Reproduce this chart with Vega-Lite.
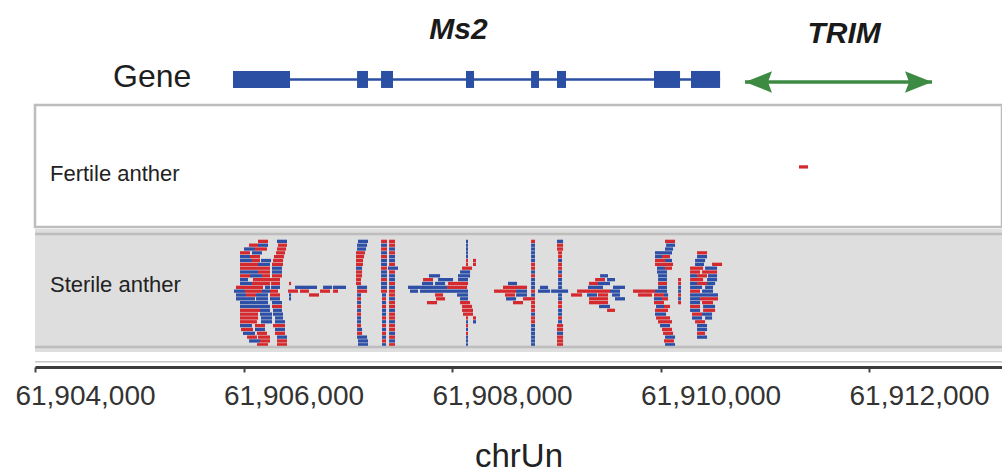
{
"$schema":"https://vega.github.io/schema/vega-lite/v6.json",
"padding":{"left":14,"top":0,"right":0,"bottom":0},
"spacing":0,
"config":{"font":"Liberation Sans","view":{"stroke":null},"concat":{"spacing":0}},
"datasets":{
"genes":[{"gene":"Ms2","start":61905899,"end":61910571},{"gene":"TRIM","start":61910810,"end":61912604}],
"exons":[{"start":61905899,"end":61906446},{"start":61907089,"end":61907194},{"start":61907319,"end":61907434},{"start":61908134,"end":61908211},{"start":61908758,"end":61908834},{"start":61909007,"end":61909093},{"start":61909937,"end":61910187},{"start":61910292,"end":61910571}],
"labels":[{"gene":"Ms2","pos":61908062},{"gene":"TRIM","pos":61911760}],
"fertile":[{"s":61911328,"e":61911415,"r":0,"t":"+"}],
"sterile":[
{"s":61906139,"e":61906235,"r":0,"t":"+"},{"s":61906321,"e":61906417,"r":0,"t":"-"},
{"s":61906053,"e":61906139,"r":1,"t":"+"},{"s":61906139,"e":61906235,"r":1,"t":"-"},{"s":61906331,"e":61906417,"r":1,"t":"+"},
{"s":61906005,"e":61906110,"r":2,"t":"-"},{"s":61906110,"e":61906225,"r":2,"t":"+"},{"s":61906321,"e":61906408,"r":2,"t":"+"},
{"s":61905966,"e":61906062,"r":3,"t":"+"},{"s":61906081,"e":61906177,"r":3,"t":"-"},{"s":61906312,"e":61906398,"r":3,"t":"+"},
{"s":61905966,"e":61906062,"r":4,"t":"-"},{"s":61906062,"e":61906158,"r":4,"t":"+"},{"s":61906292,"e":61906388,"r":4,"t":"+"},
{"s":61905966,"e":61906081,"r":5,"t":"-"},{"s":61906081,"e":61906158,"r":5,"t":"+"},{"s":61906168,"e":61906264,"r":5,"t":"-"},{"s":61906283,"e":61906379,"r":5,"t":"+"},
{"s":61905966,"e":61906139,"r":6,"t":"+"},{"s":61906139,"e":61906254,"r":6,"t":"-"},{"s":61906273,"e":61906379,"r":6,"t":"+"},
{"s":61905966,"e":61906129,"r":7,"t":"+"},{"s":61906129,"e":61906254,"r":7,"t":"+"},{"s":61906273,"e":61906369,"r":7,"t":"-"},
{"s":61905966,"e":61906043,"r":8,"t":"-"},{"s":61906043,"e":61906139,"r":8,"t":"-"},{"s":61906139,"e":61906254,"r":8,"t":"+"},{"s":61906273,"e":61906369,"r":8,"t":"-"},
{"s":61905966,"e":61906062,"r":9,"t":"+"},{"s":61906062,"e":61906177,"r":9,"t":"-"},{"s":61906177,"e":61906254,"r":9,"t":"+"},{"s":61906273,"e":61906369,"r":9,"t":"+"},
{"s":61905966,"e":61906043,"r":10,"t":"-"},{"s":61906091,"e":61906206,"r":10,"t":"+"},{"s":61906206,"e":61906273,"r":10,"t":"+"},{"s":61906273,"e":61906350,"r":10,"t":"+"},
{"s":61905966,"e":61906081,"r":11,"t":"-"},{"s":61906081,"e":61906254,"r":11,"t":"+"},{"s":61906264,"e":61906350,"r":11,"t":"+"},
{"s":61905928,"e":61906014,"r":12,"t":"+"},{"s":61906014,"e":61906187,"r":12,"t":"+"},{"s":61906206,"e":61906254,"r":12,"t":"-"},{"s":61906264,"e":61906350,"r":12,"t":"-"},
{"s":61905909,"e":61906014,"r":13,"t":"-"},{"s":61906014,"e":61906177,"r":13,"t":"+"},{"s":61906177,"e":61906254,"r":13,"t":"-"},{"s":61906254,"e":61906331,"r":13,"t":"+"},
{"s":61905928,"e":61906024,"r":14,"t":"-"},{"s":61906024,"e":61906120,"r":14,"t":"+"},{"s":61906120,"e":61906235,"r":14,"t":"-"},{"s":61906254,"e":61906350,"r":14,"t":"+"},
{"s":61905928,"e":61906110,"r":15,"t":"-"},{"s":61906120,"e":61906235,"r":15,"t":"-"},{"s":61906254,"e":61906350,"r":15,"t":"-"},
{"s":61905966,"e":61906139,"r":16,"t":"-"},{"s":61906139,"e":61906235,"r":16,"t":"-"},{"s":61906273,"e":61906369,"r":16,"t":"-"},
{"s":61905966,"e":61906158,"r":17,"t":"-"},{"s":61906158,"e":61906254,"r":17,"t":"-"},{"s":61906273,"e":61906369,"r":17,"t":"+"},
{"s":61905966,"e":61906158,"r":18,"t":"+"},{"s":61906158,"e":61906254,"r":18,"t":"-"},{"s":61906283,"e":61906369,"r":18,"t":"-"},
{"s":61905966,"e":61906139,"r":19,"t":"+"},{"s":61906158,"e":61906273,"r":19,"t":"-"},{"s":61906283,"e":61906379,"r":19,"t":"-"},
{"s":61905966,"e":61906139,"r":20,"t":"+"},{"s":61906168,"e":61906273,"r":20,"t":"-"},{"s":61906302,"e":61906379,"r":20,"t":"-"},
{"s":61905966,"e":61906129,"r":21,"t":"+"},{"s":61906168,"e":61906273,"r":21,"t":"-"},{"s":61906302,"e":61906398,"r":21,"t":"-"},
{"s":61905966,"e":61906081,"r":22,"t":"-"},{"s":61906110,"e":61906206,"r":22,"t":"+"},{"s":61906283,"e":61906398,"r":22,"t":"+"},
{"s":61905976,"e":61906091,"r":23,"t":"+"},{"s":61906110,"e":61906206,"r":23,"t":"-"},{"s":61906302,"e":61906398,"r":23,"t":"-"},
{"s":61905995,"e":61906110,"r":24,"t":"-"},{"s":61906129,"e":61906225,"r":24,"t":"+"},{"s":61906302,"e":61906398,"r":24,"t":"+"},
{"s":61906034,"e":61906129,"r":25,"t":"+"},{"s":61906139,"e":61906254,"r":25,"t":"+"},{"s":61906321,"e":61906417,"r":25,"t":"-"},
{"s":61906053,"e":61906158,"r":26,"t":"-"},{"s":61906158,"e":61906254,"r":26,"t":"+"},{"s":61906321,"e":61906417,"r":26,"t":"+"},
{"s":61906129,"e":61906235,"r":27,"t":"+"},{"s":61906321,"e":61906417,"r":27,"t":"+"},
{"s":61906436,"e":61906456,"r":11,"t":"+"},
{"s":61906494,"e":61906599,"r":12,"t":"-"},{"s":61906599,"e":61906705,"r":12,"t":"-"},{"s":61906763,"e":61906849,"r":12,"t":"-"},{"s":61906858,"e":61906983,"r":12,"t":"-"},
{"s":61906427,"e":61906523,"r":13,"t":"+"},{"s":61906542,"e":61906628,"r":13,"t":"+"},{"s":61906734,"e":61906830,"r":13,"t":"+"},{"s":61906858,"e":61906906,"r":13,"t":"+"},
{"s":61906436,"e":61906456,"r":14,"t":"-"},{"s":61906628,"e":61906724,"r":14,"t":"+"},
{"s":61906436,"e":61906456,"r":15,"t":"-"},
{"s":61907098,"e":61907194,"r":0,"t":"-"},{"s":61907089,"e":61907185,"r":1,"t":"-"},{"s":61907089,"e":61907175,"r":2,"t":"-"},{"s":61907079,"e":61907165,"r":3,"t":"+"},
{"s":61907079,"e":61907156,"r":4,"t":"+"},{"s":61907079,"e":61907146,"r":5,"t":"+"},{"s":61907079,"e":61907146,"r":6,"t":"+"},{"s":61907079,"e":61907137,"r":7,"t":"-"},
{"s":61907079,"e":61907137,"r":8,"t":"+"},{"s":61907079,"e":61907137,"r":9,"t":"+"},{"s":61907079,"e":61907127,"r":10,"t":"+"},{"s":61907079,"e":61907127,"r":11,"t":"+"},
{"s":61907089,"e":61907185,"r":12,"t":"-"},{"s":61907089,"e":61907185,"r":13,"t":"+"},{"s":61907089,"e":61907127,"r":14,"t":"-"},{"s":61907089,"e":61907127,"r":15,"t":"+"},
{"s":61907089,"e":61907127,"r":16,"t":"-"},{"s":61907089,"e":61907127,"r":17,"t":"+"},{"s":61907089,"e":61907127,"r":18,"t":"-"},{"s":61907089,"e":61907127,"r":19,"t":"+"},
{"s":61907089,"e":61907127,"r":20,"t":"-"},{"s":61907089,"e":61907127,"r":21,"t":"-"},{"s":61907089,"e":61907127,"r":22,"t":"+"},{"s":61907089,"e":61907137,"r":23,"t":"-"},
{"s":61907089,"e":61907137,"r":24,"t":"+"},{"s":61907089,"e":61907185,"r":25,"t":"-"},{"s":61907098,"e":61907194,"r":26,"t":"-"},{"s":61907098,"e":61907194,"r":27,"t":"-"},
{"s":61907319,"e":61907376,"r":0,"t":"+"},{"s":61907319,"e":61907376,"r":1,"t":"-"},{"s":61907319,"e":61907376,"r":2,"t":"+"},{"s":61907319,"e":61907376,"r":3,"t":"-"},
{"s":61907319,"e":61907376,"r":4,"t":"+"},{"s":61907319,"e":61907376,"r":5,"t":"-"},{"s":61907319,"e":61907376,"r":6,"t":"-"},{"s":61907319,"e":61907376,"r":7,"t":"+"},
{"s":61907319,"e":61907376,"r":8,"t":"-"},{"s":61907319,"e":61907376,"r":9,"t":"-"},{"s":61907319,"e":61907376,"r":10,"t":"+"},{"s":61907319,"e":61907376,"r":11,"t":"-"},
{"s":61907319,"e":61907376,"r":12,"t":"-"},{"s":61907319,"e":61907376,"r":13,"t":"+"},{"s":61907328,"e":61907367,"r":14,"t":"-"},{"s":61907328,"e":61907367,"r":15,"t":"+"},
{"s":61907328,"e":61907367,"r":16,"t":"-"},{"s":61907328,"e":61907367,"r":17,"t":"+"},{"s":61907328,"e":61907367,"r":18,"t":"-"},{"s":61907328,"e":61907367,"r":19,"t":"-"},
{"s":61907328,"e":61907367,"r":20,"t":"+"},{"s":61907328,"e":61907367,"r":21,"t":"-"},{"s":61907328,"e":61907367,"r":22,"t":"+"},{"s":61907328,"e":61907367,"r":23,"t":"-"},
{"s":61907328,"e":61907367,"r":24,"t":"+"},{"s":61907328,"e":61907367,"r":25,"t":"-"},{"s":61907328,"e":61907367,"r":26,"t":"+"},{"s":61907328,"e":61907367,"r":27,"t":"-"},
{"s":61907396,"e":61907453,"r":0,"t":"+"},{"s":61907396,"e":61907453,"r":1,"t":"+"},{"s":61907396,"e":61907453,"r":2,"t":"-"},{"s":61907396,"e":61907453,"r":3,"t":"+"},
{"s":61907396,"e":61907453,"r":4,"t":"-"},{"s":61907396,"e":61907453,"r":5,"t":"-"},{"s":61907396,"e":61907453,"r":6,"t":"+"},{"s":61907386,"e":61907482,"r":7,"t":"-"},
{"s":61907396,"e":61907453,"r":8,"t":"+"},{"s":61907396,"e":61907453,"r":9,"t":"-"},{"s":61907396,"e":61907453,"r":10,"t":"-"},{"s":61907396,"e":61907453,"r":11,"t":"+"},
{"s":61907396,"e":61907453,"r":12,"t":"-"},{"s":61907396,"e":61907453,"r":13,"t":"+"},{"s":61907396,"e":61907453,"r":14,"t":"+"},{"s":61907396,"e":61907453,"r":15,"t":"-"},
{"s":61907396,"e":61907453,"r":16,"t":"+"},{"s":61907396,"e":61907453,"r":17,"t":"+"},{"s":61907396,"e":61907453,"r":18,"t":"-"},{"s":61907396,"e":61907453,"r":19,"t":"+"},
{"s":61907396,"e":61907453,"r":20,"t":"+"},{"s":61907396,"e":61907453,"r":21,"t":"-"},{"s":61907396,"e":61907453,"r":22,"t":"+"},{"s":61907396,"e":61907453,"r":23,"t":"+"},
{"s":61907396,"e":61907453,"r":24,"t":"-"},{"s":61907396,"e":61907453,"r":25,"t":"+"},{"s":61907396,"e":61907453,"r":26,"t":"-"},{"s":61907396,"e":61907453,"r":27,"t":"+"},
{"s":61908096,"e":61908192,"r":7,"t":"+"},
{"s":61908077,"e":61908173,"r":8,"t":"-"},
{"s":61907779,"e":61907885,"r":9,"t":"-"},{"s":61908057,"e":61908173,"r":9,"t":"-"},
{"s":61907722,"e":61907818,"r":10,"t":"+"},{"s":61907866,"e":61908010,"r":10,"t":"-"},{"s":61908057,"e":61908153,"r":10,"t":"-"},
{"s":61907712,"e":61907818,"r":11,"t":"-"},{"s":61907837,"e":61907933,"r":11,"t":"-"},{"s":61907962,"e":61908153,"r":11,"t":"+"},
{"s":61907578,"e":61907693,"r":12,"t":"-"},{"s":61907693,"e":61907818,"r":12,"t":"-"},{"s":61907818,"e":61907952,"r":12,"t":"-"},{"s":61907952,"e":61908144,"r":12,"t":"+"},
{"s":61907597,"e":61907674,"r":13,"t":"-"},{"s":61907693,"e":61907933,"r":13,"t":"-"},{"s":61907933,"e":61908153,"r":13,"t":"-"},
{"s":61907837,"e":61907914,"r":14,"t":"+"},{"s":61908048,"e":61908153,"r":14,"t":"-"},
{"s":61907846,"e":61907933,"r":15,"t":"+"},{"s":61908077,"e":61908153,"r":15,"t":"-"},
{"s":61907760,"e":61907856,"r":16,"t":"+"},{"s":61908077,"e":61908173,"r":16,"t":"+"},
{"s":61908096,"e":61908192,"r":17,"t":"+"},{"s":61908096,"e":61908201,"r":18,"t":"+"},{"s":61908105,"e":61908201,"r":19,"t":"+"},
{"s":61908134,"e":61908153,"r":0,"t":"-"},{"s":61908134,"e":61908153,"r":1,"t":"-"},{"s":61908134,"e":61908153,"r":2,"t":"-"},{"s":61908134,"e":61908153,"r":3,"t":"-"},
{"s":61908134,"e":61908153,"r":4,"t":"-"},{"s":61908134,"e":61908153,"r":5,"t":"+"},{"s":61908134,"e":61908153,"r":6,"t":"+"},{"s":61908134,"e":61908153,"r":20,"t":"+"},
{"s":61908134,"e":61908153,"r":21,"t":"-"},{"s":61908134,"e":61908153,"r":22,"t":"+"},{"s":61908134,"e":61908153,"r":23,"t":"-"},{"s":61908134,"e":61908153,"r":24,"t":"+"},
{"s":61908134,"e":61908153,"r":25,"t":"-"},{"s":61908134,"e":61908153,"r":26,"t":"-"},{"s":61908134,"e":61908153,"r":27,"t":"-"},
{"s":61908201,"e":61908230,"r":5,"t":"+"},{"s":61908201,"e":61908230,"r":6,"t":"+"},{"s":61908201,"e":61908230,"r":20,"t":"+"},{"s":61908201,"e":61908230,"r":21,"t":"-"},
{"s":61908537,"e":61908623,"r":11,"t":"-"},
{"s":61908489,"e":61908604,"r":12,"t":"+"},{"s":61908604,"e":61908719,"r":12,"t":"+"},{"s":61908844,"e":61908921,"r":12,"t":"-"},
{"s":61908403,"e":61908508,"r":13,"t":"+"},{"s":61908508,"e":61908614,"r":13,"t":"+"},{"s":61908614,"e":61908719,"r":13,"t":"-"},{"s":61908825,"e":61908940,"r":13,"t":"-"},
{"s":61908508,"e":61908604,"r":14,"t":"+"},{"s":61908614,"e":61908719,"r":14,"t":"-"},
{"s":61908518,"e":61908614,"r":15,"t":"-"},{"s":61908681,"e":61908758,"r":15,"t":"+"},
{"s":61908585,"e":61908681,"r":16,"t":"+"},
{"s":61908758,"e":61908796,"r":0,"t":"+"},{"s":61908758,"e":61908796,"r":1,"t":"-"},{"s":61908758,"e":61908796,"r":2,"t":"-"},{"s":61908758,"e":61908796,"r":3,"t":"-"},
{"s":61908758,"e":61908796,"r":4,"t":"-"},{"s":61908758,"e":61908796,"r":5,"t":"-"},{"s":61908758,"e":61908796,"r":6,"t":"+"},{"s":61908758,"e":61908796,"r":7,"t":"+"},
{"s":61908758,"e":61908796,"r":8,"t":"-"},{"s":61908758,"e":61908796,"r":9,"t":"+"},{"s":61908758,"e":61908796,"r":10,"t":"-"},{"s":61908758,"e":61908796,"r":11,"t":"-"},
{"s":61908758,"e":61908796,"r":12,"t":"-"},{"s":61908758,"e":61908796,"r":13,"t":"+"},{"s":61908758,"e":61908796,"r":14,"t":"-"},{"s":61908758,"e":61908796,"r":15,"t":"+"},
{"s":61908758,"e":61908796,"r":16,"t":"+"},{"s":61908758,"e":61908796,"r":17,"t":"+"},{"s":61908758,"e":61908796,"r":18,"t":"+"},{"s":61908758,"e":61908796,"r":19,"t":"-"},
{"s":61908758,"e":61908796,"r":20,"t":"+"},{"s":61908758,"e":61908796,"r":21,"t":"+"},{"s":61908758,"e":61908796,"r":22,"t":"-"},{"s":61908758,"e":61908796,"r":23,"t":"-"},
{"s":61908758,"e":61908796,"r":24,"t":"-"},{"s":61908758,"e":61908796,"r":25,"t":"-"},{"s":61908758,"e":61908796,"r":26,"t":"-"},{"s":61908758,"e":61908796,"r":27,"t":"-"},
{"s":61909007,"e":61909065,"r":0,"t":"-"},{"s":61909007,"e":61909065,"r":1,"t":"+"},{"s":61909007,"e":61909065,"r":2,"t":"+"},{"s":61909017,"e":61909055,"r":3,"t":"+"},
{"s":61909017,"e":61909055,"r":4,"t":"+"},{"s":61909017,"e":61909055,"r":5,"t":"-"},{"s":61909017,"e":61909055,"r":6,"t":"+"},{"s":61909017,"e":61909055,"r":7,"t":"+"},
{"s":61909017,"e":61909055,"r":8,"t":"-"},{"s":61909017,"e":61909055,"r":9,"t":"+"},{"s":61909017,"e":61909055,"r":10,"t":"-"},{"s":61909017,"e":61909055,"r":11,"t":"-"},
{"s":61909017,"e":61909055,"r":12,"t":"-"},{"s":61908950,"e":61909113,"r":13,"t":"-"},{"s":61909017,"e":61909055,"r":14,"t":"-"},{"s":61909017,"e":61909055,"r":15,"t":"-"},
{"s":61909017,"e":61909055,"r":16,"t":"+"},{"s":61909017,"e":61909055,"r":17,"t":"+"},{"s":61909017,"e":61909055,"r":18,"t":"-"},{"s":61909017,"e":61909055,"r":19,"t":"-"},
{"s":61909017,"e":61909055,"r":20,"t":"+"},{"s":61909017,"e":61909055,"r":21,"t":"-"},{"s":61909007,"e":61909065,"r":22,"t":"+"},{"s":61909007,"e":61909065,"r":23,"t":"+"},
{"s":61909007,"e":61909065,"r":24,"t":"-"},{"s":61909007,"e":61909065,"r":25,"t":"+"},{"s":61909007,"e":61909065,"r":26,"t":"+"},{"s":61909007,"e":61909065,"r":27,"t":"+"},
{"s":61909420,"e":61909496,"r":9,"t":"-"},
{"s":61909372,"e":61909467,"r":10,"t":"+"},{"s":61909487,"e":61909563,"r":10,"t":"-"},
{"s":61909314,"e":61909400,"r":11,"t":"+"},{"s":61909400,"e":61909515,"r":11,"t":"-"},
{"s":61909304,"e":61909448,"r":12,"t":"-"},{"s":61909544,"e":61909659,"r":12,"t":"-"},
{"s":61909199,"e":61909324,"r":13,"t":"+"},{"s":61909324,"e":61909515,"r":13,"t":"+"},{"s":61909515,"e":61909611,"r":13,"t":"-"},
{"s":61909141,"e":61909247,"r":14,"t":"+"},{"s":61909295,"e":61909391,"r":14,"t":"-"},{"s":61909400,"e":61909496,"r":14,"t":"+"},{"s":61909535,"e":61909611,"r":14,"t":"-"},
{"s":61909314,"e":61909496,"r":15,"t":"+"},{"s":61909563,"e":61909659,"r":15,"t":"-"},
{"s":61909314,"e":61909496,"r":16,"t":"+"},
{"s":61909410,"e":61909515,"r":17,"t":"-"},
{"s":61909487,"e":61909563,"r":18,"t":"+"},
{"s":61910043,"e":61910139,"r":0,"t":"+"},{"s":61910053,"e":61910139,"r":1,"t":"-"},{"s":61910043,"e":61910120,"r":2,"t":"-"},
{"s":61909947,"e":61910014,"r":3,"t":"-"},{"s":61910014,"e":61910110,"r":3,"t":"-"},
{"s":61909947,"e":61910014,"r":4,"t":"-"},{"s":61910014,"e":61910091,"r":4,"t":"+"},
{"s":61909947,"e":61910043,"r":5,"t":"+"},{"s":61910043,"e":61910110,"r":5,"t":"-"},
{"s":61909947,"e":61910062,"r":6,"t":"+"},{"s":61910062,"e":61910120,"r":6,"t":"+"},
{"s":61909966,"e":61910043,"r":7,"t":"-"},{"s":61910043,"e":61910110,"r":7,"t":"+"},
{"s":61909966,"e":61910062,"r":8,"t":"-"},
{"s":61909976,"e":61910062,"r":9,"t":"-"},
{"s":61909976,"e":61910062,"r":10,"t":"-"},{"s":61910168,"e":61910196,"r":10,"t":"+"},
{"s":61909976,"e":61910062,"r":11,"t":"+"},{"s":61910168,"e":61910196,"r":11,"t":"+"},
{"s":61909976,"e":61910062,"r":12,"t":"-"},{"s":61910168,"e":61910196,"r":12,"t":"-"},
{"s":61909736,"e":61909842,"r":13,"t":"+"},{"s":61909842,"e":61909947,"r":13,"t":"+"},{"s":61909947,"e":61910062,"r":13,"t":"-"},{"s":61910168,"e":61910196,"r":13,"t":"-"},
{"s":61909784,"e":61909918,"r":14,"t":"+"},{"s":61909937,"e":61910033,"r":14,"t":"+"},{"s":61910033,"e":61910072,"r":14,"t":"-"},{"s":61910168,"e":61910196,"r":14,"t":"+"},
{"s":61909937,"e":61910014,"r":15,"t":"-"},{"s":61910014,"e":61910072,"r":15,"t":"+"},{"s":61910168,"e":61910196,"r":15,"t":"-"},
{"s":61909937,"e":61910033,"r":16,"t":"+"},{"s":61910168,"e":61910196,"r":16,"t":"+"},
{"s":61909957,"e":61910033,"r":17,"t":"-"},{"s":61910033,"e":61910091,"r":17,"t":"+"},
{"s":61909947,"e":61910072,"r":18,"t":"+"},
{"s":61909947,"e":61910053,"r":19,"t":"-"},
{"s":61909957,"e":61910091,"r":20,"t":"+"},
{"s":61909976,"e":61910110,"r":21,"t":"+"},
{"s":61909995,"e":61910091,"r":22,"t":"-"},
{"s":61910014,"e":61910110,"r":23,"t":"+"},
{"s":61910024,"e":61910120,"r":24,"t":"+"},
{"s":61910043,"e":61910139,"r":25,"t":"-"},
{"s":61910033,"e":61910129,"r":26,"t":"+"},
{"s":61910043,"e":61910139,"r":27,"t":"-"},
{"s":61910350,"e":61910446,"r":3,"t":"+"},
{"s":61910350,"e":61910446,"r":4,"t":"-"},
{"s":61910331,"e":61910427,"r":5,"t":"-"},
{"s":61910331,"e":61910417,"r":6,"t":"-"},{"s":61910494,"e":61910590,"r":6,"t":"+"},
{"s":61910283,"e":61910408,"r":7,"t":"+"},{"s":61910427,"e":61910542,"r":7,"t":"-"},
{"s":61910283,"e":61910379,"r":8,"t":"+"},{"s":61910398,"e":61910542,"r":8,"t":"+"},
{"s":61910283,"e":61910350,"r":9,"t":"-"},{"s":61910350,"e":61910446,"r":9,"t":"+"},{"s":61910455,"e":61910542,"r":9,"t":"-"},
{"s":61910283,"e":61910408,"r":10,"t":"+"},{"s":61910446,"e":61910542,"r":10,"t":"-"},
{"s":61910283,"e":61910350,"r":11,"t":"-"},{"s":61910350,"e":61910446,"r":11,"t":"+"},{"s":61910446,"e":61910523,"r":11,"t":"-"},
{"s":61910283,"e":61910398,"r":12,"t":"-"},{"s":61910427,"e":61910503,"r":12,"t":"-"},
{"s":61910283,"e":61910379,"r":13,"t":"+"},{"s":61910398,"e":61910503,"r":13,"t":"-"},
{"s":61910283,"e":61910446,"r":14,"t":"-"},{"s":61910446,"e":61910551,"r":14,"t":"-"},
{"s":61910283,"e":61910379,"r":15,"t":"-"},{"s":61910379,"e":61910551,"r":15,"t":"+"},
{"s":61910283,"e":61910379,"r":16,"t":"-"},{"s":61910398,"e":61910503,"r":16,"t":"+"},
{"s":61910283,"e":61910379,"r":17,"t":"+"},{"s":61910408,"e":61910523,"r":17,"t":"-"},
{"s":61910283,"e":61910379,"r":18,"t":"-"},{"s":61910408,"e":61910523,"r":18,"t":"+"},
{"s":61910302,"e":61910398,"r":19,"t":"+"},{"s":61910398,"e":61910494,"r":19,"t":"-"},
{"s":61910302,"e":61910398,"r":20,"t":"-"},{"s":61910427,"e":61910494,"r":20,"t":"-"},
{"s":61910331,"e":61910427,"r":21,"t":"+"},
{"s":61910350,"e":61910446,"r":22,"t":"-"},
{"s":61910350,"e":61910446,"r":23,"t":"-"},
{"s":61910350,"e":61910427,"r":24,"t":"+"},
{"s":61910350,"e":61910446,"r":25,"t":"-"}
]
},
"vconcat":[
{"width":967,"height":103,
 "layer":[
  {"data":{"name":"genes"},"transform":[{"filter":"datum.gene === 'Ms2'"}],
   "mark":{"type":"rule","color":"#2b4fa3","strokeWidth":2.5},
   "encoding":{"x":{"field":"start","type":"quantitative","scale":{"domain":[61904000,61913275],"nice":false,"zero":false},"axis":null},"x2":{"field":"end"},
    "y":{"datum":0.772,"type":"quantitative","scale":{"domain":[0,1],"reverse":true,"nice":false,"zero":false},"axis":null}}},
  {"data":{"name":"exons"},"mark":{"type":"rect","color":"#2b4fa3"},
   "encoding":{"x":{"field":"start","type":"quantitative","axis":null},"x2":{"field":"end"},"y":{"datum":0.689,"type":"quantitative","axis":null},"y2":{"datum":0.854}}},
  {"data":{"name":"genes"},"transform":[{"filter":"datum.gene === 'TRIM'"}],
   "mark":{"type":"rule","color":"#3d8a42","strokeWidth":3.5},
   "encoding":{"x":{"field":"start","type":"quantitative","axis":null},"x2":{"field":"end"},"y":{"datum":0.796,"type":"quantitative","axis":null}}},
  {"data":{"name":"genes"},"transform":[{"filter":"datum.gene === 'TRIM'"}],
   "mark":{"type":"point","shape":"M0,0L2,-0.8L1.7,0L2,0.8Z","size":729,"filled":true,"opacity":1,"color":"#3d8a42","strokeWidth":0},
   "encoding":{"x":{"field":"start","type":"quantitative","axis":null},"y":{"datum":0.796,"type":"quantitative","axis":null}}},
  {"data":{"name":"genes"},"transform":[{"filter":"datum.gene === 'TRIM'"}],
   "mark":{"type":"point","shape":"M0,0L-2,-0.8L-1.7,0L-2,0.8Z","size":729,"filled":true,"opacity":1,"color":"#3d8a42","strokeWidth":0},
   "encoding":{"x":{"field":"end","type":"quantitative","axis":null},"y":{"datum":0.796,"type":"quantitative","axis":null}}},
  {"data":{"name":"labels"},"transform":[{"filter":"datum.gene === 'Ms2'"}],
   "mark":{"type":"text","fontSize":30,"fontWeight":"bold","fontStyle":"italic","color":"#1a1a1a","align":"center","baseline":"alphabetic"},
   "encoding":{"x":{"field":"pos","type":"quantitative","axis":null},"y":{"datum":0.379,"type":"quantitative","axis":null},"text":{"field":"gene"}}},
  {"data":{"name":"labels"},"transform":[{"filter":"datum.gene === 'TRIM'"}],
   "mark":{"type":"text","fontSize":30,"fontWeight":"bold","fontStyle":"italic","color":"#1a1a1a","align":"center","baseline":"alphabetic"},
   "encoding":{"x":{"field":"pos","type":"quantitative","axis":null},"y":{"datum":0.415,"type":"quantitative","axis":null},"text":{"field":"gene"}}},
  {"data":{"values":[{}]},
   "mark":{"type":"text","text":"Gene","fontSize":32,"align":"left","baseline":"alphabetic","dx":78,"color":"#1e1e1e"},
   "encoding":{"x":{"datum":61904000,"type":"quantitative","axis":null},"y":{"datum":0.845,"type":"quantitative","axis":null}}}
 ]},
{"width":967,"height":122,
 "view":{"stroke":"#bdbdbd","strokeWidth":2.5,"fill":"#ffffff"},
 "layer":[
  {"data":{"name":"fertile"},"mark":{"type":"bar","size":3.3},
   "encoding":{"x":{"field":"s","type":"quantitative","scale":{"domain":[61904000,61913275],"nice":false,"zero":false},"axis":null},"x2":{"field":"e"},
    "y":{"field":"r","type":"quantitative","scale":{"domain":[-14.87,14.39],"reverse":true,"nice":false,"zero":false},"axis":null},
    "color":{"field":"t","type":"nominal","scale":{"domain":["+","-"],"range":["#d42a2f","#2e4fa6"]},"legend":null}}},
  {"data":{"values":[{}]},
   "mark":{"type":"text","text":"Fertile anther","fontSize":22,"align":"left","baseline":"alphabetic","dx":15,"color":"#222222"},
   "encoding":{"x":{"datum":61904000,"type":"quantitative","axis":null},"y":{"datum":3.6,"type":"quantitative","axis":null}}}
 ]},
{"width":967,"height":123,
 "view":{"stroke":null,"fill":"#dedede"},
 "layer":[
  {"data":{"name":"sterile"},"mark":{"type":"bar","size":3.3},
   "encoding":{"x":{"field":"s","type":"quantitative","scale":{"domain":[61904000,61913275],"nice":false,"zero":false},
     "axis":{"orient":"bottom","offset":15,"values":[61904000,61906000,61908000,61910000,61912000],"format":",d","labelFontSize":28,"labelColor":"#333333","labelOffset":50,"labelPadding":10,"labelFlush":false,"labelOverlap":false,"tickSize":5,"tickWidth":2,"tickColor":"#444444","domainColor":"#3c3c3c","domainWidth":3,"grid":false,"title":"chrUn","titleFontSize":33,"titleFontWeight":"normal","titleColor":"#222222","titlePadding":30}},
    "x2":{"field":"e"},
    "y":{"field":"r","type":"quantitative","scale":{"domain":[-1.92,27.58],"reverse":true,"nice":false,"zero":false},"axis":null},
    "color":{"field":"t","type":"nominal","scale":{"domain":["+","-"],"range":["#d42a2f","#2e4fa6"]},"legend":null}}},
  {"data":{"values":[{}]},"mark":{"type":"rule","color":"#bdbdbd","strokeWidth":2.5},
   "encoding":{"x":{"datum":61904000,"type":"quantitative"},"x2":{"datum":61913275},"y":{"datum":27.58,"type":"quantitative"}}},
  {"data":{"values":[{}]},"mark":{"type":"rule","color":"#bdbdbd","strokeWidth":2.5},
   "encoding":{"x":{"datum":61904000,"type":"quantitative"},"x2":{"datum":61913275},"y":{"datum":-1.92,"type":"quantitative"}}},
  {"data":{"values":[{}]},"mark":{"type":"rule","color":"#c6c6c6","strokeWidth":1.6},
   "encoding":{"x":{"datum":61904000,"type":"quantitative"},"x2":{"datum":61913275},"y":{"datum":31.45,"type":"quantitative"}}},
  {"data":{"values":[{}]},
   "mark":{"type":"text","text":"Sterile anther","fontSize":22,"align":"left","baseline":"alphabetic","dx":15,"color":"#222222"},
   "encoding":{"x":{"datum":61904000,"type":"quantitative"},"y":{"datum":13.2,"type":"quantitative"}}}
 ]}
]
}
